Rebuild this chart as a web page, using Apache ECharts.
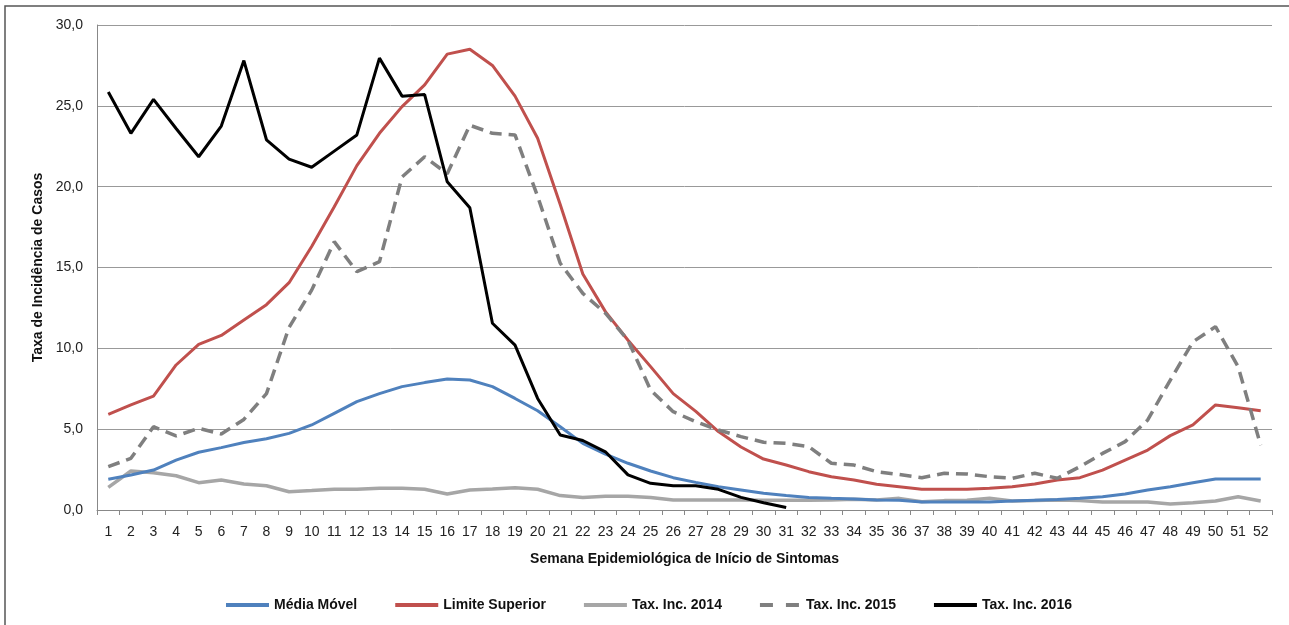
<!DOCTYPE html>
<html>
<head>
<meta charset="utf-8">
<script src="https://cdn.jsdelivr.net/npm/echarts@6/dist/echarts.min.js"></script>
<style>html,body{margin:0;padding:0;background:#fff}#c{width:1289px;height:625px}</style>
</head>
<body>
<div id="c"></div>
<script>
var weeks = [];
for (var i = 1; i <= 52; i++) weeks.push(String(i));

var mediaMovel = [1.9,2.16,2.47,3.09,3.57,3.86,4.17,4.41,4.74,5.26,5.98,6.7,7.2,7.63,7.88,8.1,8.04,7.63,6.9,6.14,5.15,4.12,3.46,2.89,2.41,2.0,1.71,1.44,1.24,1.03,0.89,0.78,0.72,0.68,0.62,0.6,0.5,0.5,0.5,0.5,0.55,0.6,0.65,0.72,0.82,0.99,1.24,1.44,1.69,1.92,1.92,1.92];
var limiteSuperior = [5.92,6.5,7.05,8.97,10.25,10.8,11.75,12.7,14.06,16.3,18.76,21.3,23.3,24.95,26.3,28.2,28.5,27.5,25.6,23.0,18.9,14.6,12.27,10.5,8.87,7.2,6.1,4.85,3.9,3.15,2.78,2.37,2.06,1.86,1.59,1.44,1.28,1.28,1.28,1.34,1.44,1.61,1.86,2.0,2.47,3.09,3.71,4.6,5.26,6.5,6.33,6.14];
var tax2014 = [1.4,2.41,2.31,2.12,1.69,1.86,1.61,1.5,1.13,1.2,1.28,1.28,1.34,1.34,1.28,0.99,1.24,1.3,1.38,1.28,0.89,0.78,0.85,0.85,0.78,0.62,0.62,0.62,0.62,0.6,0.6,0.6,0.62,0.66,0.62,0.72,0.51,0.58,0.6,0.72,0.56,0.58,0.62,0.58,0.5,0.5,0.5,0.37,0.45,0.56,0.82,0.56];
var tax2015 = [2.68,3.2,5.15,4.58,5.05,4.7,5.6,7.2,11.3,13.6,16.6,14.74,15.36,20.6,21.85,20.8,23.8,23.3,23.2,19.4,15.26,13.4,12.17,10.5,7.42,6.08,5.46,4.95,4.54,4.19,4.12,3.92,2.89,2.78,2.37,2.2,2.0,2.27,2.23,2.06,1.96,2.27,1.96,2.68,3.5,4.23,5.57,8.04,10.4,11.34,8.87,4.0];
var tax2016 = [25.85,23.3,25.4,23.6,21.85,23.75,27.8,22.9,21.7,21.2,22.2,23.2,27.95,25.6,25.7,20.3,18.7,11.55,10.2,6.9,4.64,4.3,3.6,2.17,1.65,1.5,1.5,1.28,0.78,0.45,0.15,null,null,null,null,null,null,null,null,null,null,null,null,null,null,null,null,null,null,null,null,null];
var yTicks = [0, 5, 10, 15, 20, 25, 30];

var chart = echarts.init(document.getElementById('c'), null, {renderer: 'canvas'});
var fontFam = '"Liberation Sans", Arial, sans-serif';
function mk(name, data, color, width, type) {
  return {
    name: name, type: 'line', data: data, symbol: 'none', connectNulls: false,
    lineStyle: {color: color, width: width, type: type || 'solid'},
    itemStyle: {color: color}, emphasis: {disabled: true}
  };
}
var lineIcon = 'path://M0,0H43V4H0Z';
var dashIcon = 'path://M0,0H13V4H0Z M26,0H39V4H26Z';
chart.setOption({
  animation: false,
  backgroundColor: '#fff',
  textStyle: {fontFamily: fontFam},
  graphic: [{
    type: 'rect', shape: {x: 5, y: 6, width: 1400, height: 700},
    style: {fill: 'none', stroke: '#555', lineWidth: 1.5}, silent: true, z: -10
  }],
  grid: {left: 97, right: 17, top: 25, bottom: 115, containLabel: false},
  legend: {
    left: 221, top: 593, itemWidth: 43, itemHeight: 4, itemGap: 38,
    textStyle: {fontSize: 14, fontWeight: 'bold', color: '#111', fontFamily: fontFam},
    data: [
      {name: 'Média Móvel', icon: lineIcon},
      {name: 'Limite Superior', icon: lineIcon},
      {name: 'Tax. Inc. 2014', icon: lineIcon},
      {name: 'Tax. Inc. 2015', icon: dashIcon},
      {name: 'Tax. Inc. 2016', icon: lineIcon}
    ]
  },
  xAxis: {
    type: 'category', data: weeks, boundaryGap: true,
    name: 'Semana Epidemiológica de Início de Sintomas', nameLocation: 'middle', nameGap: 42,
    nameTextStyle: {fontSize: 14, fontWeight: 'bold', color: '#111'},
    axisLine: {lineStyle: {color: '#888', width: 1}},
    axisTick: {show: true, interval: 0, length: 5, lineStyle: {color: '#888'}},
    axisLabel: {interval: 0, fontSize: 14, color: '#222', margin: 15}
  },
  yAxis: {
    type: 'value', min: 0, max: 30, interval: 5,
    name: 'Taxa de Incidência de Casos', nameLocation: 'middle', nameGap: 50, nameRotate: 90,
    nameTextStyle: {fontSize: 14, fontWeight: 'bold', color: '#111'},
    axisLine: {show: true, lineStyle: {color: '#888', width: 1}},
    axisTick: {show: false},
    splitLine: {lineStyle: {color: '#999', width: 1}},
    axisLabel: {fontSize: 14, color: '#222', margin: 14,
      formatter: function (v) { return v.toFixed(1).replace('.', ','); }}
  },
  series: [
    mk('Tax. Inc. 2014', tax2014, '#A6A6A6', 3.5),
    mk('Média Móvel', mediaMovel, '#4F81BD', 3),
    mk('Limite Superior', limiteSuperior, '#C0504D', 3),
    mk('Tax. Inc. 2015', tax2015, '#7F7F7F', 3.5, [12, 7]),
    mk('Tax. Inc. 2016', tax2016, '#000000', 3)
  ]
});
</script>
</body>
</html>
